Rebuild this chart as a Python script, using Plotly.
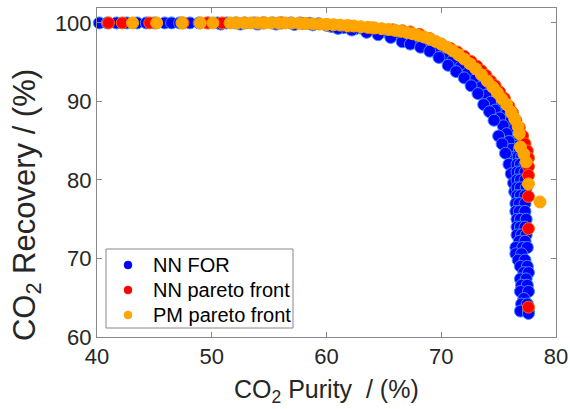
import plotly.graph_objects as go

# ---- NN FOR (blue cloud) ----
blue_x = [40.2, 40.9, 41.7, 42.6, 43.5, 44.3, 45.0, 45.9, 46.5, 47.2, 48.1, 48.9, 49.7, 50.5, 51.3,
          52.1, 52.9, 53.7, 54.5, 55.3, 56.1, 56.9, 57.7, 58.5, 59.3,
          50.8, 52.5, 54.0, 55.6, 57.2, 58.8, 60.3,
          60.0, 61.0, 62.0, 63.0, 64.0, 65.0, 66.0, 67.0, 68.0, 69.0, 70.0, 70.8, 71.5, 72.2, 72.8,
          73.4, 73.9, 74.4, 74.8, 75.2, 75.6, 75.9, 76.2, 76.4, 76.6,
          60.5, 61.5, 62.5, 63.5, 64.5, 65.5, 66.5, 67.5, 68.5, 69.5, 70.3, 71.0, 71.7, 72.3, 72.9,
          73.4, 73.9, 74.3, 74.7, 75.1, 75.4, 75.7, 75.9, 76.1, 76.3,
          61.0, 62.2, 63.5, 64.5, 65.6, 66.6, 67.3, 68.2, 69.0, 69.8, 70.6, 71.3, 72.0, 72.6, 73.2,
          73.7, 74.2, 74.6, 75.0, 75.3, 75.6, 75.9, 76.1, 76.3, 76.4,
          76.8, 77.1, 76.7, 77.0, 77.3, 76.6, 76.9, 77.3, 76.6, 76.9, 77.3, 76.6, 76.9, 77.3,
          76.6, 76.9, 77.4, 76.6, 76.9, 77.3, 76.5, 76.8, 77.3, 76.5, 76.8, 77.3, 76.6, 76.9, 77.4,
          76.6, 76.9, 77.3, 76.6, 77.0, 77.4, 76.8, 77.3, 76.5, 77.1, 77.5, 76.5, 77.0, 76.7, 77.3,
          76.9, 77.5, 77.2, 77.6, 76.9, 77.4, 77.0, 77.5, 76.9, 77.6, 77.2, 77.0, 77.5, 76.9, 77.6,
          77.6]
blue_y = [100.0, 100.0, 100.0, 100.0, 100.0, 100.0, 100.0, 100.0, 100.0, 100.0, 100.0, 100.0, 100.0, 100.0, 100.0,
          100.0, 100.0, 100.0, 100.0, 100.0, 100.0, 100.0, 100.0, 99.95, 99.9,
          99.85, 99.85, 99.85, 99.85, 99.8, 99.75, 99.6,
          99.7, 99.6, 99.5, 99.35, 99.2, 99.0, 98.75, 98.4, 97.95, 97.4, 96.75, 96.1, 95.4, 94.6, 93.8,
          92.9, 92.0, 91.1, 90.2, 89.3, 88.3, 87.3, 86.3, 85.3, 84.3,
          99.55, 99.4, 99.25, 99.1, 98.9, 98.6, 98.2, 97.75, 97.25, 96.6, 95.9, 95.2, 94.4, 93.6, 92.7,
          91.8, 90.8, 89.9, 88.9, 87.9, 86.9, 85.9, 84.9, 83.9, 82.9,
          99.3, 99.1, 98.8, 98.5, 98.15, 97.6, 97.3, 96.9, 96.4, 95.6, 94.6, 93.8, 93.0, 92.0, 91.0,
          89.6, 88.7, 87.6, 85.6, 84.6, 83.4, 82.0, 80.8, 79.6, 78.5,
          84.0, 84.0, 83.0, 83.0, 83.0, 82.0, 82.0, 82.0, 81.0, 81.0, 81.0, 80.0, 80.0, 80.0,
          79.0, 79.0, 79.0, 78.0, 78.0, 78.0, 77.0, 77.0, 77.0, 76.0, 76.0, 76.0, 75.0, 75.0, 75.0,
          74.0, 74.0, 74.0, 73.0, 73.0, 73.0, 72.2, 72.2, 71.4, 71.4, 71.4, 70.6, 70.6, 69.8, 69.8,
          69.0, 69.0, 68.2, 68.2, 67.4, 67.4, 66.6, 66.6, 65.8, 65.8, 64.9, 64.2, 64.2, 63.3, 63.3,
          63.0]

# ---- NN pareto front (red) ----
red_x = [41.0, 42.2, 44.6, 47.5, 49.6, 50.9, 54.5, 56.0, 58.0, 60.0, 62.0, 64.0, 65.8, 66.6, 67.3,
         68.1, 69.0, 70.0, 70.8, 71.4, 72.0, 72.6, 73.1, 73.5, 73.9, 74.3, 74.7, 75.1, 75.5, 75.9,
         76.2, 76.5, 76.8, 77.1, 77.3, 77.5, 77.6, 77.6, 77.6, 77.6, 77.6, 77.6]
red_y = [100.0, 100.0, 100.0, 100.0, 100.0, 100.0, 100.0, 100.0, 99.92, 99.8, 99.6, 99.36, 99.12, 99.0, 98.85,
         98.55, 98.0, 97.3, 96.75, 96.3, 95.75, 95.1, 94.5, 93.9, 93.3, 92.6, 92.0, 91.2, 90.4, 89.4,
         88.6, 87.6, 86.7, 85.6, 84.6, 83.7, 82.8, 81.7, 80.6, 77.9, 73.8, 63.8]

# ---- PM pareto front (orange) ----
orange_x = [43.1, 45.2, 47.4, 49.0, 50.1, 51.6, 52.2, 52.8, 53.4, 54.0, 54.6, 55.2, 55.8, 56.4, 57.0,
            57.6, 58.2, 58.8, 59.4, 60.0, 60.6, 61.2, 61.8, 62.4, 63.0, 63.6, 64.2, 64.8, 65.4, 66.0,
            66.5, 67.0, 67.5, 68.0, 68.5, 69.0, 69.5, 70.0, 70.5, 71.0, 71.5, 72.0, 72.5, 73.0, 73.5,
            74.0, 74.5, 74.9, 75.3, 75.7, 76.1, 76.4, 76.7, 76.8, 76.9, 77.2, 77.4, 77.6, 78.6]
orange_y = [100.0, 100.0, 100.0, 100.0, 100.0, 100.0, 100.0, 100.0, 100.0, 100.0, 100.0, 100.0, 100.0, 100.0, 99.98,
            99.95, 99.92, 99.88, 99.85, 99.8, 99.77, 99.72, 99.66, 99.6, 99.52, 99.44, 99.36, 99.27, 99.17, 99.05,
            98.93, 98.78, 98.62, 98.42, 98.2, 97.95, 97.65, 97.3, 96.9, 96.45, 95.95, 95.4, 94.8, 94.15, 93.4,
            92.6, 91.8, 91.1, 90.3, 89.6, 88.6, 87.8, 86.8, 85.9, 84.2, 83.3, 82.3, 79.5, 77.2]

x_ticks = [40, 50, 60, 70, 80]
y_ticks = [60, 70, 80, 90, 100]
series_names = ["NN FOR", "NN pareto front", "PM pareto front"]

FONT = "Liberation Sans, Arial, Helvetica, sans-serif"
TXT = "#262626"
BLUE, BLUE_EDGE = "#0000ff", "#3c8cff"
RED, RED_EDGE = "#ff0000", "#ff6a00"
ORANGE, ORANGE_EDGE = "#ffa500", "#ffa500"
series_colors = [BLUE, RED, ORANGE]

fig = go.Figure()
for xs, ys, fill, edge, name in [(blue_x, blue_y, BLUE, BLUE_EDGE, series_names[0]),
                                 (red_x, red_y, RED, RED_EDGE, series_names[1]),
                                 (orange_x, orange_y, ORANGE, ORANGE_EDGE, series_names[2])]:
    fig.add_trace(go.Scatter(x=xs, y=ys, mode="markers", name=name, showlegend=False, cliponaxis=False,
                             marker=dict(size=12, color=fill, line=dict(color=edge, width=1))))

axis_common = dict(showline=True, linecolor="#888888", linewidth=1, mirror="ticks",
                   ticks="inside", ticklen=5, tickcolor="#888888", showgrid=False, zeroline=False,
                   automargin=False,
                   tickfont=dict(family=FONT, size=22, color=TXT))

fig.update_xaxes(range=[40, 80], tickvals=x_ticks, **axis_common)
fig.update_yaxes(range=[60, 101.9], tickvals=y_ticks, **axis_common)

fig.add_annotation(text="CO<sub>2</sub> Purity\u00a0 / (%)", xref="paper", yref="paper",
                   x=0.5, y=-0.164, xanchor="center", yanchor="middle", showarrow=False,
                   font=dict(family=FONT, size=25, color=TXT))
fig.add_annotation(text="CO<sub>2</sub> Recovery / (%)", xref="paper", yref="paper",
                   x=-0.1525, y=0.401, xanchor="center", yanchor="middle", showarrow=False,
                   textangle=-90, font=dict(family=FONT, size=31, color=TXT))

# ---- legend box (drawn in paper space to match the reference layout) ----
PW, PH = 459.0, 329.0            # plot area size in px
lg_left, lg_right, lg_bottom, lg_top = 9 / PW, 196 / PW, 9 / PH, 88 / PH
fig.add_shape(type="rect", xref="paper", yref="paper", x0=lg_left, x1=lg_right, y0=lg_bottom, y1=lg_top,
              line=dict(color="#888888", width=1), fillcolor="white", layer="above")
row_px = [72, 47, 22]             # row centres above the plot bottom, px
for name, col, rp in zip(series_names, series_colors, row_px):
    yc = rp / PH
    xc = 31 / PW
    fig.add_shape(type="circle", xref="paper", yref="paper",
                  x0=xc - 4 / PW, x1=xc + 4 / PW, y0=yc - 4 / PH, y1=yc + 4 / PH,
                  line=dict(color=col, width=0.5), fillcolor=col, layer="above")
    fig.add_annotation(text=name, xref="paper", yref="paper", x=54 / PW, y=yc,
                       xanchor="left", yanchor="middle", showarrow=False,
                       font=dict(family=FONT, size=20, color="#000000"))

fig.update_layout(
    width=570, height=409,
    margin=dict(l=97, r=14, t=8, b=72),
    plot_bgcolor="white", paper_bgcolor="white",
    font=dict(family=FONT, color=TXT),
    showlegend=False,
)

fig.write_html("out.html", config={"displayModeBar": False},
               post_script="document.body.style.margin='0';document.body.style.padding='0';")
